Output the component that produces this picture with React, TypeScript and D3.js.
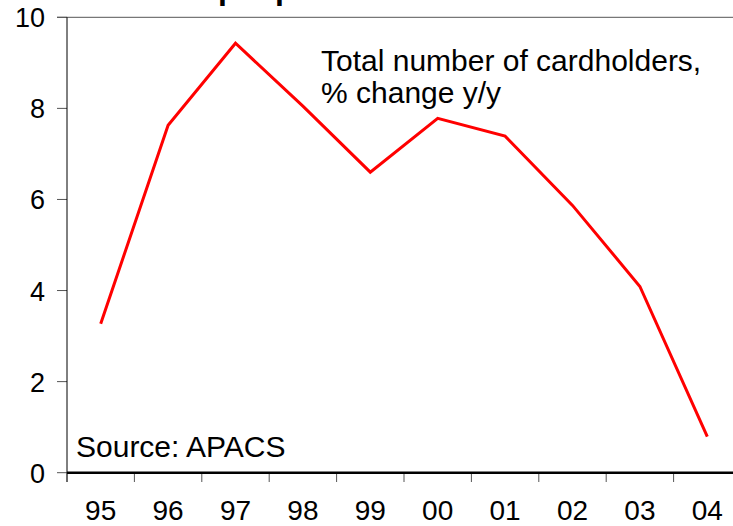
import React from "react";
import * as d3 from "d3";

const years = ["95", "96", "97", "98", "99", "00", "01", "02", "03", "04"];
const growth = [3.27, 7.63, 9.43, 8.05, 6.6, 7.78, 7.39, 5.87, 4.09, 0.79];
const yTicks = [0, 2, 4, 6, 8, 10];
const labelLines = ["Total number of cardholders,", "% change y/y"];
const sourceText = "Source: APACS";
const titleFragment = "people";

const W = 733;
const H = 526;
const FONT = "Liberation Sans, Arial, Helvetica, sans-serif";

export default function App() {
  const x = d3.scaleBand<string>().domain(years).range([67, 741]).padding(0);
  const y = d3.scaleLinear().domain([0, 10]).range([472.7, 17.3]);
  const line = d3
    .line<number>()
    .x((_, i) => (x(years[i]) as number) + x.bandwidth() / 2)
    .y((d) => y(d));
  const x0 = 67;
  const tickEdges = years.map((yr) => x(yr) as number);

  return (
    <svg
      width={W}
      height={H}
      style={{ position: "absolute", left: 0, top: 0, background: "#fff" }}
      fontFamily={FONT}
    >
      <rect width={W} height={H} fill="#fff" />
      {/* clipped title fragment (only descenders visible, as in the source) */}
      <text x={218} y={-1.3} fontSize={32} fontWeight="bold" fill="#000">
        {titleFragment}
      </text>
      {/* top frame line */}
      <line x1={57} x2={W} y1={y(10)} y2={y(10)} stroke="#555" strokeWidth={1} />
      {/* y ticks */}
      {yTicks.map((t) => (
        <g key={t}>
          <line x1={57} x2={x0} y1={y(t)} y2={y(t)} stroke="#555" strokeWidth={1} />
          <text x={45} y={y(t) + 10} fontSize={27} textAnchor="end" fill="#000">
            {t}
          </text>
        </g>
      ))}
      {/* y axis */}
      <line x1={x0} x2={x0} y1={y(10)} y2={482} stroke="#000" strokeWidth={1} />
      {/* x ticks */}
      {tickEdges.map((e, i) => (
        <line key={i} x1={e} x2={e} y1={y(0)} y2={482} stroke="#555" strokeWidth={1} />
      ))}
      {/* x axis */}
      <line x1={x0} x2={W} y1={y(0)} y2={y(0)} stroke="#000" strokeWidth={2.5} />
      {/* x labels */}
      {years.map((yr) => (
        <text
          key={yr}
          x={(x(yr) as number) + x.bandwidth() / 2}
          y={520}
          fontSize={28}
          textAnchor="middle"
          fill="#000"
        >
          {yr}
        </text>
      ))}
      {/* data line */}
      <path
        d={line(growth) || ""}
        fill="none"
        stroke="#ff0000"
        strokeWidth={3}
        strokeLinejoin="miter"
      />
      {/* annotation */}
      {labelLines.map((l, i) => (
        <text key={i} x={321} y={70.7 + i * 32.6} fontSize={30} fill="#000">
          {l}
        </text>
      ))}
      <text x={76} y={456.5} fontSize={30} fill="#000">
        {sourceText}
      </text>
    </svg>
  );
}
